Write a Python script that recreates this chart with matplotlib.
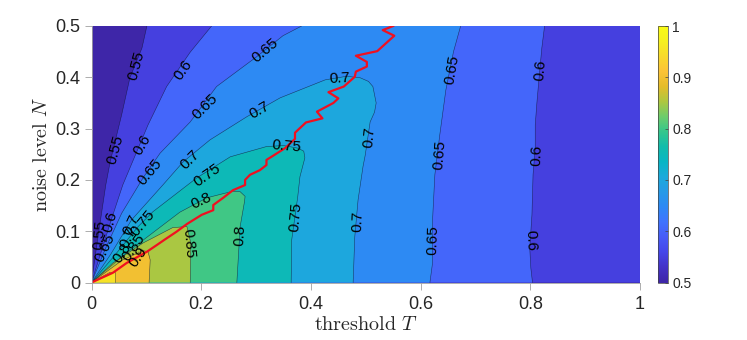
import matplotlib
matplotlib.use('Agg')
import matplotlib.pyplot as plt
from matplotlib.cm import ScalarMappable
from matplotlib.colors import LinearSegmentedColormap, Normalize

plt.rcParams['font.family'] = ['Liberation Sans', 'DejaVu Sans']
plt.rcParams['mathtext.fontset'] = 'cm'

# contour lines, (T, N), each one starts at the left/origin end
c55_T = [0, .012, .026, .034, .055, .070, .092, .101]
c55_N = [0, .090, .190, .235, .327, .399, .457, .500]

c60_T = [0, .036, .057, .103, .137, .180, .219]
c60_N = [0, .122, .190, .307, .382, .449, .500]
c60_right_T = [.826, .821, .816, .812, .809, .809, .805, .803, .799, .801, .804]
c60_right_N = [.500, .457, .399, .350, .307, .262, .210, .132, .067, .028, 0]

c65_T = [0, .025, .055, .094, .125, .180, .228, .301, .349, .383]
c65_N = [0, .065, .135, .204, .252, .313, .382, .440, .481, .500]
c65_right_T = [.673, .660, .646, .635, .626, .622, .622, .617]
c65_right_N = [.500, .450, .375, .288, .210, .126, .040, 0]

c70_T = [0, .035, .073, .130, .167, .216, .283, .344, .426, .465, .490, .505, .513, .519, .516, .508, .499, .495, .486, .480, .477]
c70_N = [0, .055, .122, .190, .235, .278, .323, .360, .395, .402, .399, .392, .382, .350, .332, .313, .248, .226, .161, .089, 0]

c75_T = [0, .040, .085, .112, .192, .253, .319, .350, .376, .387, .389, .380, .376, .365, .364]
c75_N = [0, .050, .109, .138, .204, .245, .265, .267, .262, .256, .243, .206, .167, .083, 0]

c80_T = [0, .070, .161, .210, .258, .271, .280, .279, .271, .265]
c80_N = [0, .063, .137, .165, .178, .177, .168, .158, .109, 0]

c85_T = [0, .039, .094, .148, .174, .181, .180]
c85_N = [0, .038, .077, .107, .109, .077, 0]

c90_T = [0, .057, .094, .103, .107, .105]
c90_N = [0, .044, .062, .060, .044, 0]

c95_T = [0, .034, .044, .044]
c95_N = [0, .020, .019, 0]

# red ridge line
ridge_T = [0, .039, .064, .101, .119, .134, .155, .174, .201, .222, .222, .240, .258, .280, .280,
           .289, .307, .319, .319, .331, .353, .371, .371, .391, .421, .411, .441, .450, .432, .460,
           .480, .482, .502, .502, .482, .521, .552, .531, .550]
ridge_N = [0, .019, .038, .060, .073, .084, .099, .114, .132, .141, .151, .165, .180, .190, .200,
           .210, .219, .229, .239, .247, .262, .280, .292, .312, .320, .333, .350, .359, .371, .382,
           .401, .411, .421, .430, .442, .451, .481, .492, .500]

# contour labels
label_text = ['0.55', '0.55', '0.55',
              '0.6', '0.6', '0.6', '0.6', '0.6', '0.6',
              '0.65', '0.65', '0.65', '0.65', '0.65', '0.65', '0.65',
              '0.7', '0.7', '0.7', '0.7', '0.7', '0.7', '0.7',
              '0.75', '0.75', '0.75', '0.75',
              '0.8', '0.8', '0.8', '0.85', '0.85', '0.9']
label_T = [.081, .043, .015,
           .167, .092, .035, .819, .811, .801,
           .207, .106, .317, .657, .634, .622, .025,
           .307, .180, .453, .506, .485, .067, .073,
           .210, .356, .373, .094,
           .201, .271, .056, .178, .076, .085]
label_N = [.423, .258, .092,
           .414, .268, .119, .414, .248, .083,
           .342, .216, .453, .414, .248, .083, .067,
           .336, .239, .397, .284, .120, .087, .113,
           .210, .265, .128, .116,
           .159, .092, .058, .077, .069, .050]
label_rot = [75, 75, 85,
             55, 60, 75, 85, 88, -88,
             45, 50, 40, 80, 85, 88, 65,
             30, 45, 3, 85, 88, 65, 65,
             35, -5, 85, 50,
             25, 87, 55, -85, 55, 55]

tick_color = '#262626'
axis_gray = '#a0a0a0'
parula = ['#3e26a8', '#4433c8', '#4547ea', '#475cf7', '#3f74fe', '#2d89f4', '#269ae6', '#1baadb',
          '#08b6c4', '#11bcab', '#35c68c', '#6dcc6b', '#aec73f', '#e4bc2a', '#fcc337', '#f8d92b',
          '#f5f01f', '#f9fb15']
cmap = LinearSegmentedColormap.from_list('parula', parula)
norm = Normalize(0.5, 1)

fig = plt.figure(figsize=(7.47, 3.40), dpi=100)
ax = fig.add_axes([91.5 / 747, 57.5 / 340, 548.5 / 747, 256.5 / 340])
ax.set_facecolor(cmap(norm(0.5)))

# regions above each level, painted from the lowest up
ax.fill(c55_T + [1, 1], c55_N + [.5, 0], color=cmap(norm(.55)), lw=0)
ax.fill(c60_T + c60_right_T, c60_N + c60_right_N, color=cmap(norm(.60)), lw=0)
ax.fill(c65_T + c65_right_T, c65_N + c65_right_N, color=cmap(norm(.65)), lw=0)
ax.fill(c70_T, c70_N, color=cmap(norm(.70)), lw=0)
ax.fill(c75_T, c75_N, color=cmap(norm(.75)), lw=0)
ax.fill(c80_T, c80_N, color=cmap(norm(.80)), lw=0)
ax.fill(c85_T, c85_N, color=cmap(norm(.85)), lw=0)
ax.fill(c90_T, c90_N, color=cmap(norm(.90)), lw=0)
ax.fill(c95_T, c95_N, color=cmap(norm(.95)), lw=0)

lines = [(c55_T, c55_N), (c60_T, c60_N), (c60_right_T, c60_right_N), (c65_T, c65_N),
         (c65_right_T, c65_right_N), (c70_T, c70_N), (c75_T, c75_N), (c80_T, c80_N),
         (c85_T, c85_N), (c90_T, c90_N), (c95_T, c95_N)]
for t, n in lines:
    ax.plot(t, n, color='#101030', lw=0.4, alpha=0.7)

for s, t, n, r in zip(label_text, label_T, label_N, label_rot):
    ax.text(t, n, s, fontsize=11, rotation=r, ha='center', va='center', color='black',
            rotation_mode='anchor')

ax.plot(ridge_T, ridge_N, color='#f01020', lw=1.6, clip_on=True)

ax.set_xlim(0, 1)
ax.set_ylim(0, 0.5)
ax.set_xticks([0, .2, .4, .6, .8, 1], ['0', '0.2', '0.4', '0.6', '0.8', '1'])
ax.set_yticks([0, .1, .2, .3, .4, .5], ['0', '0.1', '0.2', '0.3', '0.4', '0.5'])
ax.tick_params(labelsize=13, length=5, width=0.6, color=axis_gray, labelcolor=tick_color, pad=3)
ax.tick_params(axis='x', pad=5)
for side in ['top', 'right']:
    ax.spines[side].set_visible(False)
for side in ['left', 'bottom']:
    ax.spines[side].set_color(axis_gray)
    ax.spines[side].set_linewidth(0.6)
ax.set_xlabel(r'$\mathrm{threshold}\ T$', fontsize=14.5, labelpad=1, color=tick_color)
ax.set_ylabel(r'$\mathrm{noise\ level}\ N$', fontsize=14.5, labelpad=3, color=tick_color)

cax = fig.add_axes([658 / 747, 57.5 / 340, 10 / 747, 256.5 / 340])
cb = fig.colorbar(ScalarMappable(norm=norm, cmap=cmap), cax=cax)
cb.set_ticks([.5, .6, .7, .8, .9, 1], labels=['0.5', '0.6', '0.7', '0.8', '0.9', '1'])
cb.ax.tick_params(labelsize=10, length=2.5, width=0.5, direction='in', color='#404040',
                  labelcolor=tick_color, pad=3)
cb.outline.set_edgecolor('#404040')
cb.outline.set_linewidth(0.5)

fig.savefig('out.png', dpi=100)
plt.close(fig)
